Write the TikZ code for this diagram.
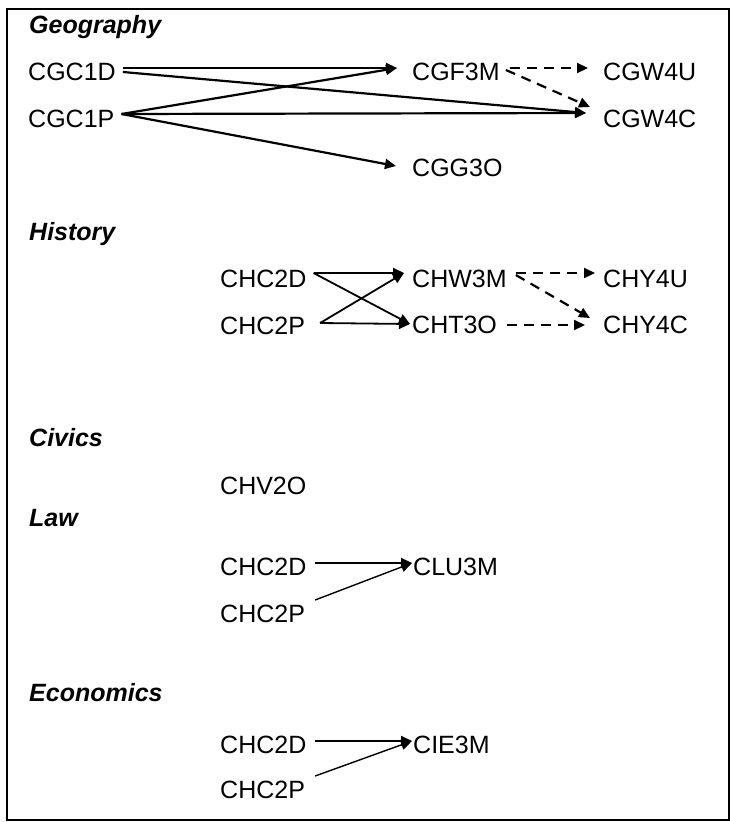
\documentclass[tikz,border=0pt]{standalone}
\usepackage{fontspec}
\setmainfont{Liberation Sans}
\usepackage{tikz}
\usetikzlibrary{arrows.meta,calc}

\tikzset{
  course/.style={anchor=west, inner sep=0pt, text height=18pt, text depth=0pt,
    font=\fontsize{25}{30}\selectfont},
  subject/.style={course, font=\fontsize{25}{30}\selectfont\bfseries\itshape},
  req/.style={line width=2.2pt, -{Triangle[length=11pt,width=10pt]}},
  histreq/.style={req, line width=1.8pt},
  thinreq/.style={req, line width=1.4pt},
  rec/.style={req, dash pattern=on 10pt off 7pt}
}

\begin{document}
\begin{tikzpicture}[x=1pt,y=-1pt]
  \useasboundingbox (0,0) rectangle (730,822);
  \draw[line width=2pt] (7,9) rectangle (729,820);

  % subject headings
  \foreach \nm/\yy/\txt in {geo/24/Geography, his/231/History, civ/437/Civics,
                            law/517/Law, eco/692/Economics}
    \node[subject] (\nm) at (29,\yy) {\txt};

  % geography
  \node[course] (c1d) at (28,71)  {CGC1D};
  \node[course] (c1p) at (28,118) {CGC1P};
  \node[course] (f3m) at (412,71) {CGF3M};
  \node[course] (g3o) at (412,167) {CGG3O};
  \node[course] (w4u) at (603,71) {CGW4U};
  \node[course] (w4c) at (603,118) {CGW4C};
  \draw[req] ([xshift=7pt,yshift=3pt]c1d.east) -- ([xshift=-15pt,yshift=3pt]f3m.west);
  \draw[req] ([xshift=7pt,yshift=-1pt]c1d.east) -- ([xshift=-17pt,yshift=5pt]w4c.west);
  \draw[req] ([xshift=7pt,yshift=4pt]c1p.east) -- ([xshift=-15pt,yshift=3pt]f3m.west);
  \draw[req] ([xshift=7pt,yshift=4pt]c1p.east) -- ([xshift=-17pt,yshift=5pt]w4c.west);
  \draw[req] ([xshift=7pt,yshift=4pt]c1p.east) -- ([xshift=-16pt,yshift=1pt]g3o.west);
  \draw[rec] ([xshift=10pt,yshift=3pt]f3m.east) -- ([xshift=-15pt,yshift=3pt]w4u.west);
  \draw[rec] ([xshift=6pt,yshift=1pt]f3m.east) -- ([xshift=-13pt,yshift=11pt]w4c.west);

  % history
  \node[course] (hc2d) at (220,278) {CHC2D};
  \node[course] (hc2p) at (220,325) {CHC2P};
  \node[course] (hw3m) at (412,278) {CHW3M};
  \node[course] (ht3o) at (412,324) {CHT3O};
  \node[course] (hy4u) at (603,278) {CHY4U};
  \node[course] (hy4c) at (603,324) {CHY4C};
  \draw[histreq] ([xshift=7pt,yshift=5pt]hc2d.east) -- ([xshift=-8pt,yshift=5pt]hw3m.west);
  \draw[histreq] ([xshift=7pt,yshift=5pt]hc2d.east) -- ([xshift=-2pt]ht3o.west);
  \draw[histreq] ([xshift=15pt,yshift=2pt]hc2p.east) -- ([xshift=-8pt,yshift=5pt]hw3m.west);
  \draw[histreq] ([xshift=15pt,yshift=2pt]hc2p.east) -- ([xshift=-2pt]ht3o.west);
  \draw[rec] ([xshift=9pt,yshift=5pt]hw3m.east) -- ([xshift=-8pt,yshift=5pt]hy4u.west);
  \draw[rec] ([xshift=9pt,yshift=3pt]hw3m.east) -- ([xshift=-13pt,yshift=6pt]hy4c.west);
  \draw[rec] ([xshift=10pt,yshift=-1pt]ht3o.east) -- ([xshift=-18pt,yshift=-1pt]hy4c.west);

  % civics
  \node[course] (hv2o) at (220,485) {CHV2O};

  % law
  \node[course] (lc2d) at (220,566) {CHC2D};
  \node[course] (lc2p) at (220,613) {CHC2P};
  \node[course] (lu3m) at (413,566) {CLU3M};
  \draw[req] ([xshift=8pt,yshift=3pt]lc2d.east) -- ([xshift=-1pt,yshift=3pt]lu3m.west);
  \draw[thinreq] ([xshift=10pt,yshift=13pt]lc2p.east) -- ([xshift=-1pt,yshift=3pt]lu3m.west);

  % economics
  \node[course] (ec2d) at (220,744) {CHC2D};
  \node[course] (ec2p) at (220,789) {CHC2P};
  \node[course] (ie3m) at (413,744) {CIE3M};
  \draw[req] ([xshift=8pt,yshift=3pt]ec2d.east) -- ([xshift=-1pt,yshift=3pt]ie3m.west);
  \draw[thinreq] ([xshift=10pt,yshift=13pt]ec2p.east) -- ([xshift=-1pt,yshift=3pt]ie3m.west);
\end{tikzpicture}
\end{document}
